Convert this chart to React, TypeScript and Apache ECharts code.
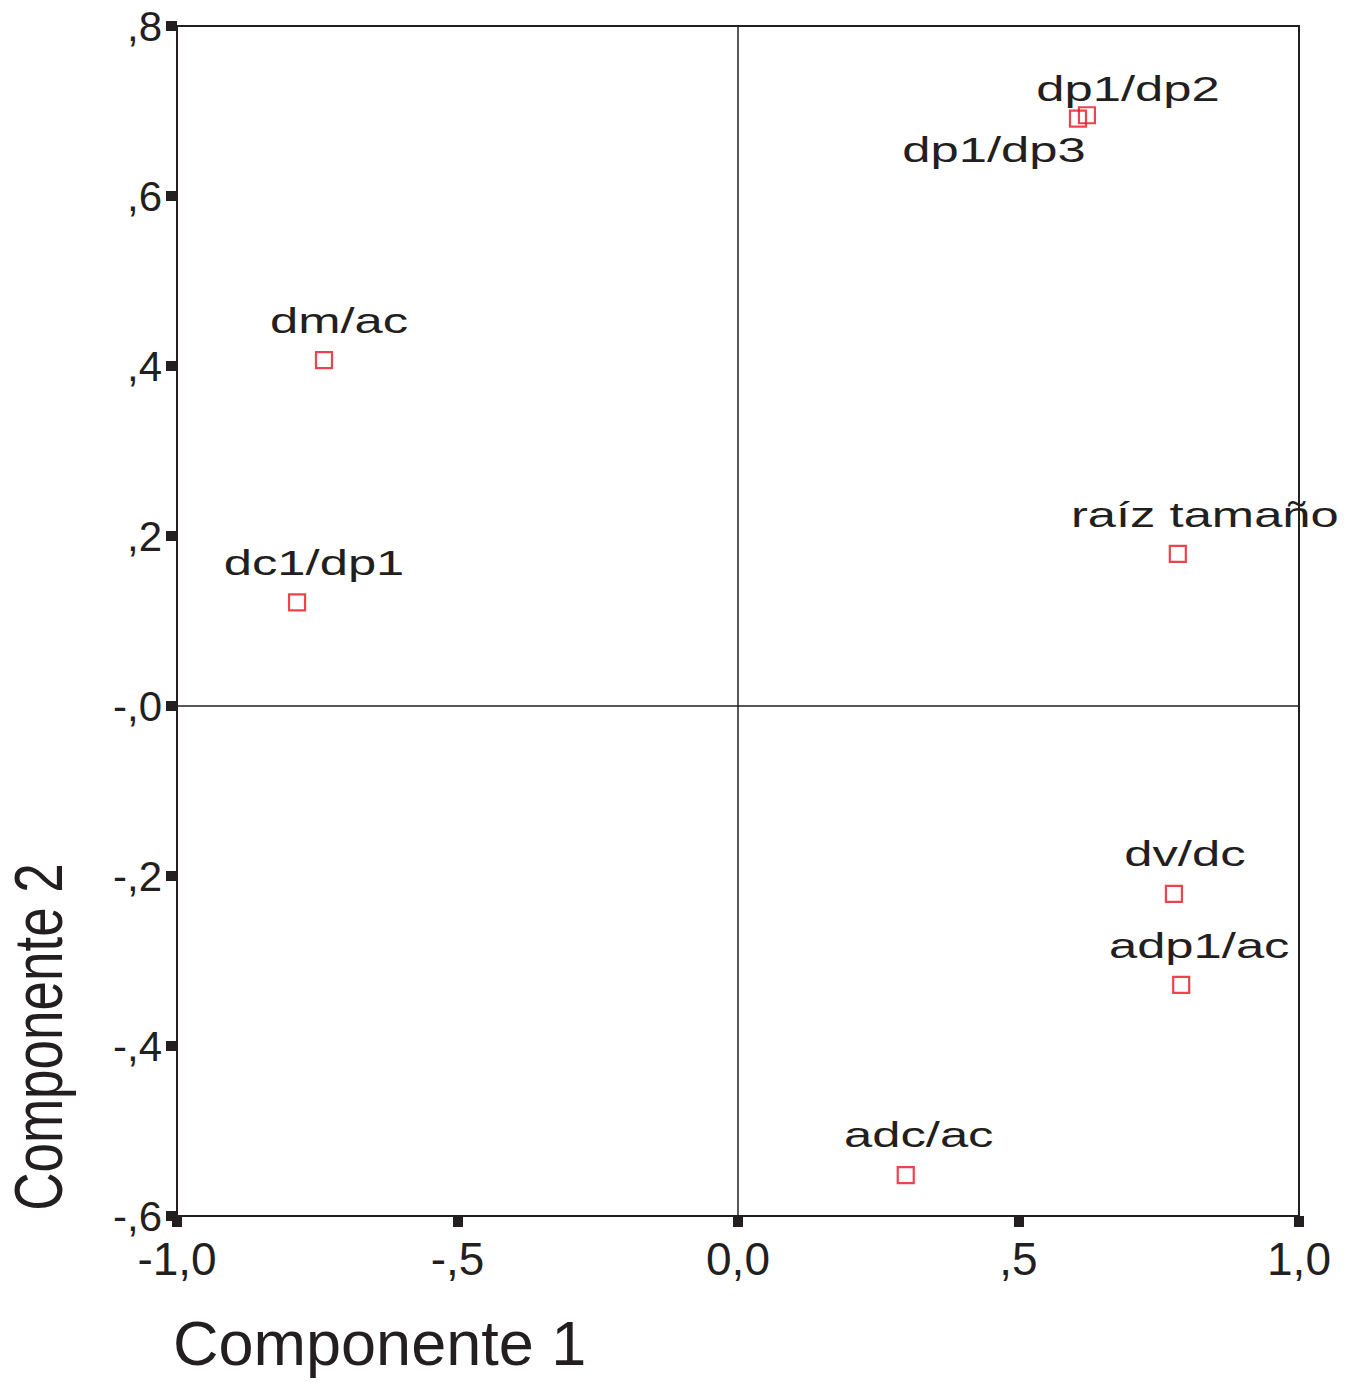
import React, { useEffect, useRef } from "react";
import * as echarts from "echarts";

const names = ["dp1/dp2", "dp1/dp3", "dm/ac", "dc1/dp1", "raíz tamaño", "dv/dc", "adp1/ac", "adc/ac"];
const comp1 = [0.622, 0.606, -0.738, -0.786, 0.784, 0.777, 0.79, 0.299];
const comp2 = [0.695, 0.691, 0.407, 0.122, 0.179, -0.221, -0.328, -0.552];

const xTickLabels: Record<string, string> = { "-1": "-1,0", "-0.5": "-,5", "0": "0,0", "0.5": ",5", "1": "1,0" };
const yTickLabels: Record<string, string> = {
  "0.8": ",8", "0.6": ",6", "0.4": ",4", "0.2": ",2", "0": "-,0", "-0.2": "-,2", "-0.4": "-,4", "-0.6": "-,6",
};

// label offsets (pixels) relative to each marker: [dx, baselineDy]
const labelOffsets: [number, number][] = [
  [41, -14], [-84, 43], [15, -27], [17, -27], [27, -27], [11, -28], [18, -27], [13, -28],
];

const INK = "#231f20";
const RED = "#e8141f";
const FONT = "Liberation Sans, Arial, Helvetica, sans-serif";

function key(v: number) {
  return String(Math.round(v * 10) / 10);
}

export default function App() {
  const ref = useRef<HTMLDivElement>(null);
  useEffect(() => {
    if (!ref.current) return;
    const chart = echarts.init(ref.current, null, { renderer: "svg" });
    const data = comp1.map((x, i) => [x, comp2[i], i]);
    chart.setOption({
      animation: false,
      backgroundColor: "#ffffff",
      grid: {
        left: 177,
        right: 49,
        top: 26,
        bottom: 167,
        show: true,
        borderColor: INK,
        borderWidth: 2,
        backgroundColor: "transparent",
      },
      xAxis: {
        type: "value",
        min: -1,
        max: 1,
        interval: 0.5,
        axisLine: { show: true, onZero: false, lineStyle: { color: INK, width: 2 } },
        axisTick: { show: true, length: 11, lineStyle: { color: INK, width: 10 } },
        splitLine: { show: false },
        axisLabel: {
          formatter: (v: number) => xTickLabels[key(v)] ?? "",
          fontSize: 46,
          fontFamily: FONT,
          color: INK,
          margin: 20,
        },
      },
      yAxis: {
        type: "value",
        min: -0.6,
        max: 0.8,
        interval: 0.2,
        axisLine: { show: true, onZero: false, lineStyle: { color: INK, width: 2 } },
        axisTick: { show: true, length: 11, lineStyle: { color: INK, width: 10 } },
        splitLine: { show: false },
        axisLabel: {
          formatter: (v: number) => yTickLabels[key(v)] ?? "",
          fontSize: 42,
          fontFamily: FONT,
          color: INK,
          margin: 15,
          padding: [8, 0, 0, 0],
        },
      },
      graphic: [
        {
          type: "text",
          x: 173,
          y: 1343,
          style: {
            text: "Componente 1",
            fontSize: 63,
            fontFamily: FONT,
            fill: INK,
            align: "left",
            verticalAlign: "middle",
          },
        },
        {
          type: "text",
          x: 38,
          y: 1037,
          rotation: Math.PI / 2,
          scaleY: 1.3,
          style: {
            text: "Componente 2",
            fontSize: 53,
            fontFamily: FONT,
            fill: INK,
            align: "center",
            verticalAlign: "middle",
          },
        },
      ],
      series: [
        {
          type: "scatter",
          data,
          symbol: "rect",
          symbolSize: 16,
          itemStyle: { color: "rgba(0,0,0,0)", borderColor: RED, borderWidth: 2.2 },
          z: 3,
          markLine: {
            silent: true,
            symbol: "none",
            label: { show: false },
            lineStyle: { color: INK, width: 1.5, type: "solid" },
            data: [{ xAxis: 0 }, { yAxis: 0 }],
          },
        },
        {
          type: "custom",
          data,
          z: 4,
          renderItem: (params: any, api: any) => {
            const p = api.coord([api.value(0), api.value(1)]);
            const i = params.dataIndex;
            const [dx, dy] = labelOffsets[i];
            return {
              type: "text",
              x: p[0] + dx,
              y: p[1] + dy - 12,
              scaleX: 1.45,
              style: {
                text: names[i],
                fontSize: 35,
                fontFamily: FONT,
                fill: INK,
                align: "center",
                verticalAlign: "middle",
              },
            };
          },
        },
      ],
    });
    return () => chart.dispose();
  }, []);
  return (
    <div
      ref={ref}
      style={{ position: "absolute", left: 0, top: 0, width: 1348, height: 1383 }}
    />
  );
}
